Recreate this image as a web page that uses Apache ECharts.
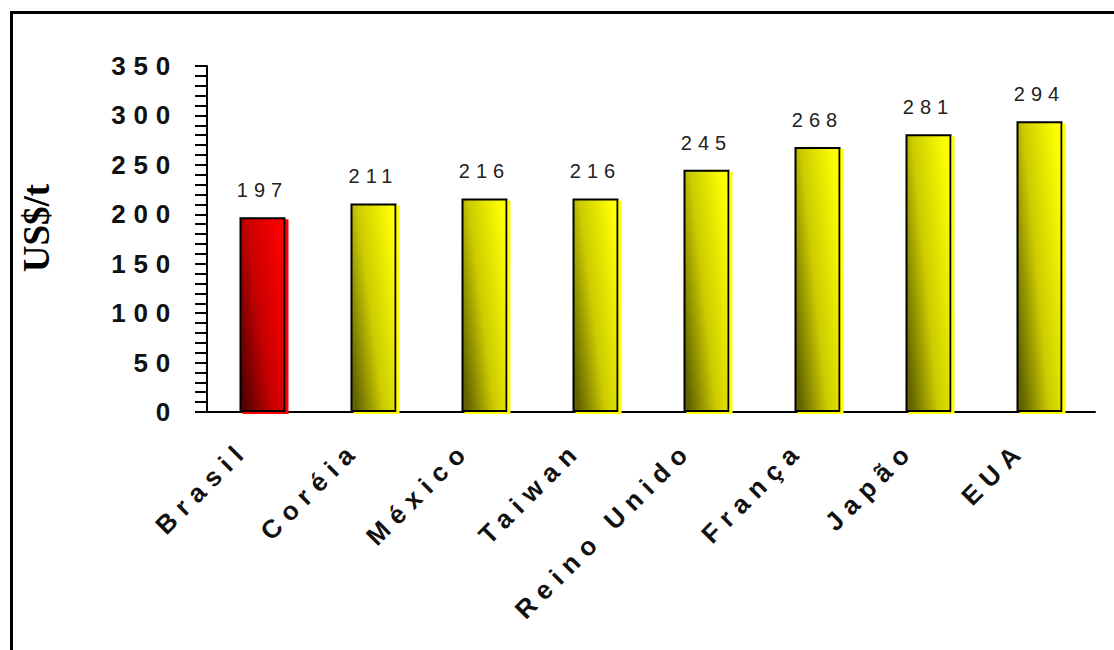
<!DOCTYPE html>
<html>
<head>
<meta charset="utf-8">
<script src="https://cdn.jsdelivr.net/npm/echarts@6/dist/echarts.min.js"></script>
<style>
  html, body { margin: 0; padding: 0; background: #fff; }
  #chart { width: 1114px; height: 650px; }
  /* the old chart uses wide letter spacing on all sans labels */
  #chart text { letter-spacing: 0.3em; }
  #chart text[style*="Serif"] { letter-spacing: 0; }
</style>
</head>
<body>
<div id="chart"></div>
<script>
// =====================
// data
// =====================

const countries = ["Brasil", "Coréia", "México", "Taiwan", "Reino Unido", "França", "Japão", "EUA"];
const prices = [197, 211, 216, 216, 245, 268, 281, 294];
const highlighted = "Brasil";

const yTicks = { min: 0, max: 350, interval: 50 };

// =====================
// colours
// =====================

function barFill(dark, mid, bright) {
  return {
    type: "linear",
    x: 0, y: 0.8, x2: 1, y2: 0.2,
    colorStops: [
      { offset: 0, color: dark },
      { offset: 0.45, color: mid },
      { offset: 1, color: bright },
    ],
  };
}

const redFill = barFill("#560000", "#c80000", "#ff0000");
const yellowFill = barFill("#626200", "#cccc00", "#ffff00");

const sansFont = "'Liberation Sans', Arial, sans-serif";

// =====================
// chart
// =====================

const chart = echarts.init(document.getElementById("chart"), null, { renderer: "svg" });

chart.setOption({
  animation: false,
  backgroundColor: "#fff",

  graphic: [
    {
      type: "rect",
      shape: { x: 11.5, y: 12.5, width: 1200, height: 800 },
      style: { fill: null, stroke: "#000", lineWidth: 3 },
      silent: true,
    },
  ],

  grid: {
    left: 207,
    right: 19,
    top: 66,
    bottom: 238,
  },

  xAxis: {
    type: "category",
    data: countries,
    axisLine: { lineStyle: { color: "#000", width: 2 } },
    axisTick: { length: 12, lineStyle: { color: "#000", width: 2 } },
    axisLabel: {
      interval: 0,
      rotate: 45,
      margin: 15,
      padding: [0, 26, 0, 0],
      color: "#111",
      fontFamily: sansFont,
      fontWeight: "bold",
      fontSize: 26,
    },
  },

  yAxis: {
    type: "value",
    min: yTicks.min,
    max: yTicks.max,
    interval: yTicks.interval,
    name: "US$/t",
    nameLocation: "middle",
    nameGap: 152,
    nameTextStyle: {
      color: "#000",
      fontFamily: "'Liberation Serif', 'Times New Roman', serif",
      fontWeight: "bold",
      fontSize: 37,
      padding: [0, 0, 0, 22],
    },
    splitLine: { show: false },
    axisLine: { show: true, lineStyle: { color: "#000", width: 2 } },
    axisTick: { show: true, length: 12, lineStyle: { color: "#000", width: 2 } },
    minorTick: { show: true, splitNumber: 5, length: 12, lineStyle: { color: "#000", width: 2 } },
    axisLabel: {
      margin: 29,
      color: "#111",
      fontFamily: sansFont,
      fontWeight: "bold",
      fontSize: 26,
    },
  },

  series: [
    {
      type: "bar",
      barWidth: 46,
      data: prices.map((v, i) => {
        const isRed = countries[i] === highlighted;
        return {
          value: v,
          itemStyle: {
            color: isRed ? redFill : yellowFill,
            shadowColor: isRed ? "#ff0000" : "#ffff00",
          },
        };
      }),
      itemStyle: {
        borderColor: "#000",
        borderWidth: 2,
        shadowBlur: 0,
        shadowOffsetX: 3,
        shadowOffsetY: 2,
      },
      label: {
        show: true,
        position: "top",
        distance: 17,
        color: "#222",
        fontFamily: sansFont,
        fontSize: 20,
      },
    },
  ],
});
</script>
</body>
</html>
